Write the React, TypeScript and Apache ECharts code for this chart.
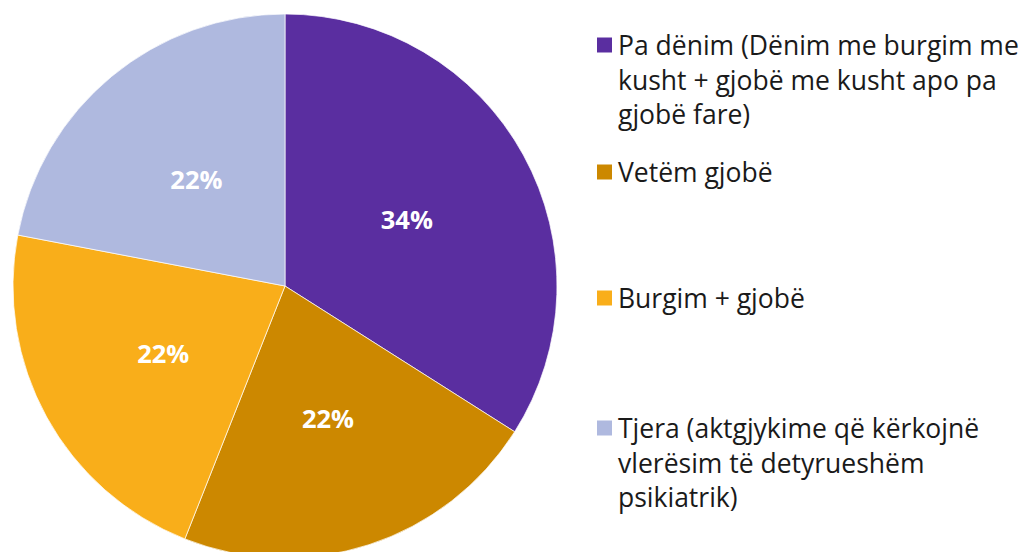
import React, { useEffect, useRef } from "react";
import * as echarts from "echarts";

const categories = [
  "Pa dënim (Dënim me burgim me kusht + gjobë me kusht apo pa gjobë fare)",
  "Vetëm gjobë",
  "Burgim + gjobë",
  "Tjera (aktgjykime që kërkojnë vlerësim të detyrueshëm psikiatrik)",
];
const legendLines = [
  "Pa dënim (Dënim me burgim me\nkusht + gjobë me kusht apo pa\ngjobë fare)",
  "Vetëm gjobë",
  "Burgim + gjobë",
  "Tjera (aktgjykime që kërkojnë\nvlerësim të detyrueshëm\npsikiatrik)",
];
const values = [34, 22, 22, 22];
const colors = ["#5A2EA0", "#CC8800", "#F9AE1A", "#AFB9DF"];

const LH = 34.5;
const FONT = "'Open Sans', 'Noto Sans', sans-serif";
const legendIconCenters = [45, 172, 298, 428];

export default function App() {
  const ref = useRef<HTMLDivElement>(null);
  useEffect(() => {
    if (!ref.current) return;
    const chart = echarts.init(ref.current, null, { renderer: "svg" });
    const legends = categories.map((name, i) => {
      const lines = legendLines[i].split("\n").length;
      // prepend empty lines so that the first line sits level with the icon
      const text = "\n".repeat(lines - 1) + legendLines[i];
      const total = lines * 2 - 1;
      return {
        orient: "vertical",
        left: 595,
        top: legendIconCenters[i] - (total * LH) / 2,
        padding: 0,
        data: [name],
        icon: "rect",
        itemWidth: 17,
        itemHeight: 17,
        selectedMode: false,
        formatter: () => text,
        textStyle: {
          fontFamily: FONT,
          fontSize: 26.5,
          lineHeight: LH,
          color: "#1a1a1a",
        },
      };
    });
    chart.setOption({
      animation: false,
      color: colors,
      legend: legends,
      series: [
        {
          type: "pie",
          center: [285, 286],
          radius: 272,
          startAngle: 90,
          clockwise: true,
          data: categories.map((name, i) => ({ name, value: values[i] })),
          itemStyle: { borderColor: "#ffffff", borderWidth: 0.7 },
          label: {
            show: true,
            position: "inside",
            formatter: "{d}%",
            color: "#ffffff",
            fontFamily: FONT,
            fontWeight: "bold",
            fontSize: 25.5,
          },
          labelLine: { show: false },
          emphasis: { disabled: true },
        },
      ],
    });
    return () => chart.dispose();
  }, []);
  return (
    <div
      ref={ref}
      style={{ position: "fixed", left: 0, top: 0, width: 1025, height: 552, background: "#ffffff" }}
    />
  );
}
